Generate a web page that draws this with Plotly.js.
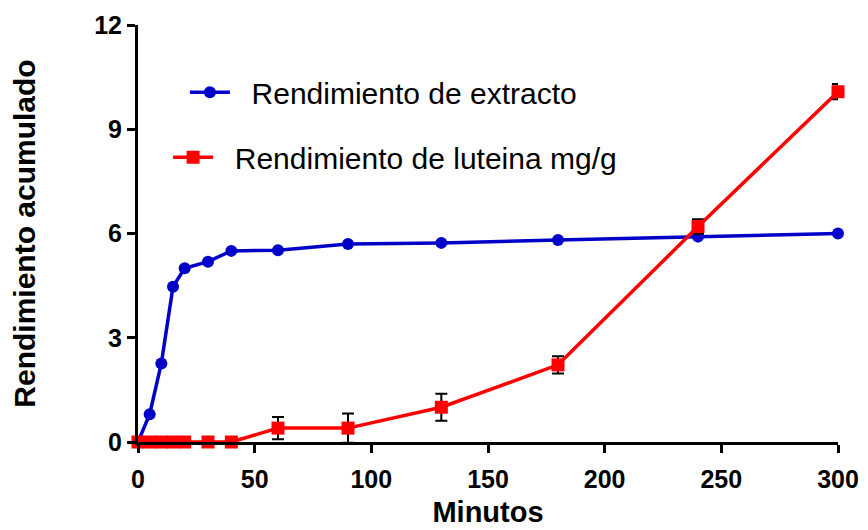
<!DOCTYPE html>
<html>
<head>
<meta charset="utf-8">
<script src="https://cdn.plot.ly/plotly-3.0.1.min.js"></script>
<style>
  html, body { margin: 0; padding: 0; background: #fff; }
  #chart { width: 868px; height: 530px; }
</style>
</head>
<body>
<div id="chart"></div>
<script>
// Extraction time (minutes)
const minutosExtracto = [0, 5, 10, 15, 20, 30, 40, 60, 90, 130, 180, 240, 300];
const rendExtracto   = [0, 0.8, 2.26, 4.47, 5.0, 5.19, 5.5, 5.52, 5.7, 5.73, 5.81, 5.91, 6.0];

const minutosLuteina = [0, 5, 10, 15, 20, 30, 40, 60, 90, 130, 180, 240, 300];
const rendLuteina    = [0, 0, 0, 0, 0, 0, 0, 0.4, 0.4, 1.0, 2.22, 6.2, 10.08];
const errLuteina     = [0, 0, 0, 0, 0, 0, 0, 0.32, 0.42, 0.39, 0.25, 0.21, 0.22];

const xTicks = [0, 50, 100, 150, 200, 250, 300];
const yTicks = [0, 3, 6, 9, 12];

const BLUE = '#0000C8';
const RED = '#FF0000';
// spacing between the legend symbol and its label
const GAP = '\u00a0\u00a0';

const traces = [
  {
    x: minutosExtracto,
    y: rendExtracto,
    name: GAP + 'Rendimiento de extracto',
    type: 'scatter',
    mode: 'lines+markers',
    line: { color: BLUE, width: 3.5 },
    marker: { color: BLUE, size: 12, symbol: 'circle' },
    cliponaxis: false,
    legend: 'legend'
  },
  {
    x: minutosLuteina,
    y: rendLuteina,
    name: GAP + 'Rendimiento de luteina mg/g',
    type: 'scatter',
    mode: 'lines+markers',
    line: { color: RED, width: 3.5 },
    marker: { color: RED, size: 13, symbol: 'square' },
    error_y: { type: 'data', array: errLuteina, visible: true, color: '#000', thickness: 2, width: 6 },
    cliponaxis: false,
    legend: 'legend2'
  }
];

const tickFontY = { family: 'Liberation Sans, Arial, sans-serif', size: 25, color: '#000', weight: 'bold' };
const tickFontX = { family: 'Liberation Sans Narrow, Arial Narrow, Liberation Sans, sans-serif', size: 25, color: '#000', weight: 'bold' };
const legendFont = { family: 'Liberation Sans, Arial, sans-serif', size: 30, color: '#000' };

const layout = {
  width: 868,
  height: 530,
  margin: { l: 138, r: 30, t: 25, b: 88 },
  paper_bgcolor: '#fff',
  plot_bgcolor: '#fff',
  showlegend: true,
  xaxis: {
    range: [0, 300],
    tickvals: xTicks,
    ticktext: xTicks.map(String),
    showgrid: false,
    zeroline: false,
    showline: true,
    linecolor: '#000',
    linewidth: 3,
    ticks: 'outside',
    ticklen: 8,
    tickwidth: 3,
    tickcolor: '#000',
    tickfont: tickFontX,
    ticklabelstandoff: 5,
    title: {
      text: 'Minutos',
      font: { family: 'Liberation Sans Narrow, Arial Narrow, Liberation Sans, sans-serif', size: 29, color: '#000', weight: 'bold' },
      standoff: 10
    }
  },
  yaxis: {
    range: [0, 12],
    tickvals: yTicks,
    ticktext: yTicks.map(String),
    showgrid: false,
    zeroline: false,
    showline: true,
    linecolor: '#000',
    linewidth: 3,
    ticks: 'outside',
    ticklen: 8,
    tickwidth: 3,
    tickcolor: '#000',
    tickfont: tickFontY,
    title: {
      text: 'Rendimiento acumulado',
      font: { family: 'Liberation Sans, Arial, sans-serif', size: 30, color: '#000', weight: 'bold' },
      standoff: 50
    }
  },
  legend: {
    x: 0.067, y: 0.839, xanchor: 'left', yanchor: 'middle',
    bgcolor: 'rgba(0,0,0,0)', borderwidth: 0,
    font: legendFont,
    itemwidth: 40
  },
  legend2: {
    x: 0.043, y: 0.683, xanchor: 'left', yanchor: 'middle',
    bgcolor: 'rgba(0,0,0,0)', borderwidth: 0,
    font: legendFont,
    itemwidth: 40
  }
};

Plotly.newPlot('chart', traces, layout, { displayModeBar: false, staticPlot: true });
</script>
</body>
</html>
